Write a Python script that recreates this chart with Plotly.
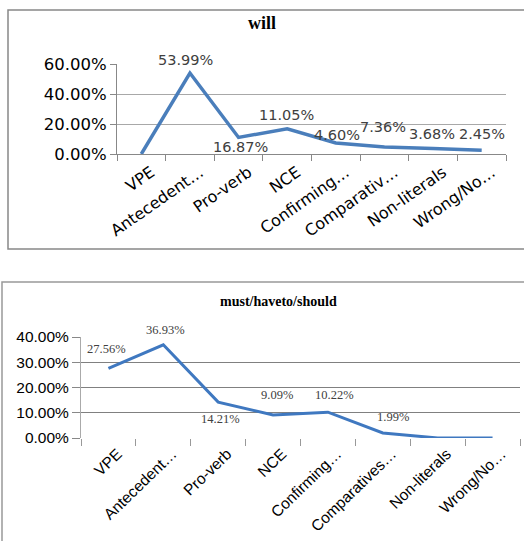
import plotly.graph_objects as go

categories1 = ["VPE", "Antecedent…", "Pro-verb", "NCE", "Confirming…", "Comparativ…", "Non-literals", "Wrong/No…"]
will_values = [0.0, 53.99, 11.05, 16.87, 7.36, 4.60, 3.68, 2.45]
will_labels = ["", "53.99%", "16.87%", "11.05%", "4.60%", "7.36%", "3.68%", "2.45%"]

categories2 = ["VPE", "Antecedent…", "Pro-verb", "NCE", "Confirming…", "Comparatives…", "Non-literals", "Wrong/No…"]
must_values = [27.56, 36.93, 14.21, 9.09, 10.22, 1.99, 0.0, 0.0]
must_labels = ["27.56%", "36.93%", "14.21%", "9.09%", "10.22%", "1.99%", "", ""]

y1_ticks = [0, 20, 40, 60]
y2_ticks = [0, 10, 20, 30, 40]

# label offsets (pixels) - styling only
will_shift = [(0, 0), (-4, 13), (2, -10), (-1, 14), (1, 8), (-1, 20), (-1, 14), (0, 16)]
must_shift = [(-2, 19), (2, 15), (2, -17), (4, 20), (7, 17), (10, 16), (0, 0), (0, 0)]

W, H = 524, 541

fig = go.Figure()
fig.add_trace(go.Scatter(x=categories1, y=will_values, mode="lines",
                         line=dict(color="#4A7EBB", width=3.5),
                         xaxis="x", yaxis="y", cliponaxis=False, hoverinfo="skip"))
fig.add_trace(go.Scatter(x=categories2, y=must_values, mode="lines",
                         line=dict(color="#3F78C0", width=3),
                         xaxis="x2", yaxis="y2", cliponaxis=False, hoverinfo="skip"))

annotations = []
for i, (lab, v) in enumerate(zip(will_labels, will_values)):
    if lab:
        annotations.append(dict(x=i, y=v, xref="x", yref="y", text=lab, showarrow=False,
                                xanchor="center", yanchor="middle",
                                xshift=will_shift[i][0], yshift=will_shift[i][1],
                                font=dict(family="DejaVu Sans", size=14.5, color="#404040")))
for i, (lab, v) in enumerate(zip(must_labels, must_values)):
    if lab:
        annotations.append(dict(x=i, y=v, xref="x2", yref="y2", text=lab, showarrow=False,
                                xanchor="center", yanchor="middle",
                                xshift=must_shift[i][0], yshift=must_shift[i][1],
                                font=dict(family="Liberation Serif", size=12.5, color="#404040")))
annotations.append(dict(x=262 / W, y=1 - 23 / H, xref="paper", yref="paper", text="<b>will</b>",
                        xanchor="center", yanchor="middle",
                        showarrow=False, font=dict(family="Liberation Serif", size=18, color="#000")))
annotations.append(dict(x=278 / W, y=1 - 301 / H, xref="paper", yref="paper", text="<b>must/haveto/should</b>",
                        xanchor="center", yanchor="middle",
                        showarrow=False, font=dict(family="Liberation Serif", size=14, color="#000")))

shapes = [
    dict(type="rect", xref="paper", yref="paper", x0=8 / W, x1=1.02, y0=1 - 249 / H, y1=1 - 10 / H,
         line=dict(color="#888888", width=1.5)),
    dict(type="rect", xref="paper", yref="paper", x0=2 / W, x1=1.02, y0=-0.05, y1=1 - 282 / H,
         line=dict(color="#999999", width=1.5)),
]

fig.update_layout(
    width=W, height=H, margin=dict(l=0, r=0, t=0, b=0),
    paper_bgcolor="white", plot_bgcolor="white", showlegend=False,
    annotations=annotations, shapes=shapes,
    xaxis=dict(domain=[117 / W, 506 / W], anchor="y", type="category",
               tickangle=-35, tickson="boundaries", ticks="outside", ticklen=6, tickcolor="#888",
               showline=True, linecolor="#888", linewidth=1, showgrid=False, automargin=False,
               ticklabelshift=10, ticklabelstandoff=2,
               tickfont=dict(family="DejaVu Sans", size=16, color="#000"), range=[-0.5, 7.5]),
    yaxis=dict(domain=[1 - 154 / H, 1 - 64 / H], anchor="x", range=[0, 60],
               tickvals=y1_ticks, ticktext=[f"{v:.2f}%" for v in y1_ticks],
               ticks="outside", ticklen=6, tickcolor="#888", showline=True, linecolor="#888",
               gridcolor="#A8A8A8", gridwidth=1, zeroline=False, automargin=False,
               tickfont=dict(family="DejaVu Sans", size=16.5, color="#000")),
    xaxis2=dict(domain=[81 / W, 520 / W], anchor="y2", type="category",
                tickangle=-44, tickson="boundaries", ticks="outside", ticklen=7, tickcolor="#999",
                showline=False, showgrid=False, automargin=False,
                ticklabelshift=9, ticklabelstandoff=3,
                tickfont=dict(family="Liberation Sans", size=15.5, color="#000"), range=[-0.5, 7.5]),
    yaxis2=dict(domain=[1 - 438 / H, 1 - 337 / H], anchor="x2", range=[0, 40],
                tickvals=y2_ticks, ticktext=[f"{v:.2f}%" for v in y2_ticks],
                ticks="outside", ticklen=8, tickcolor="#888", showline=True, linecolor="#AAA",
                gridcolor="#808080", gridwidth=1, zeroline=False, automargin=False,
                tickfont=dict(family="Liberation Sans", size=15.5, color="#000")),
)

fig.write_html("out.html", config={"displayModeBar": False},
               post_script="document.body.style.margin='0';document.body.style.padding='0';"
                           "document.documentElement.style.overflow='hidden';")
